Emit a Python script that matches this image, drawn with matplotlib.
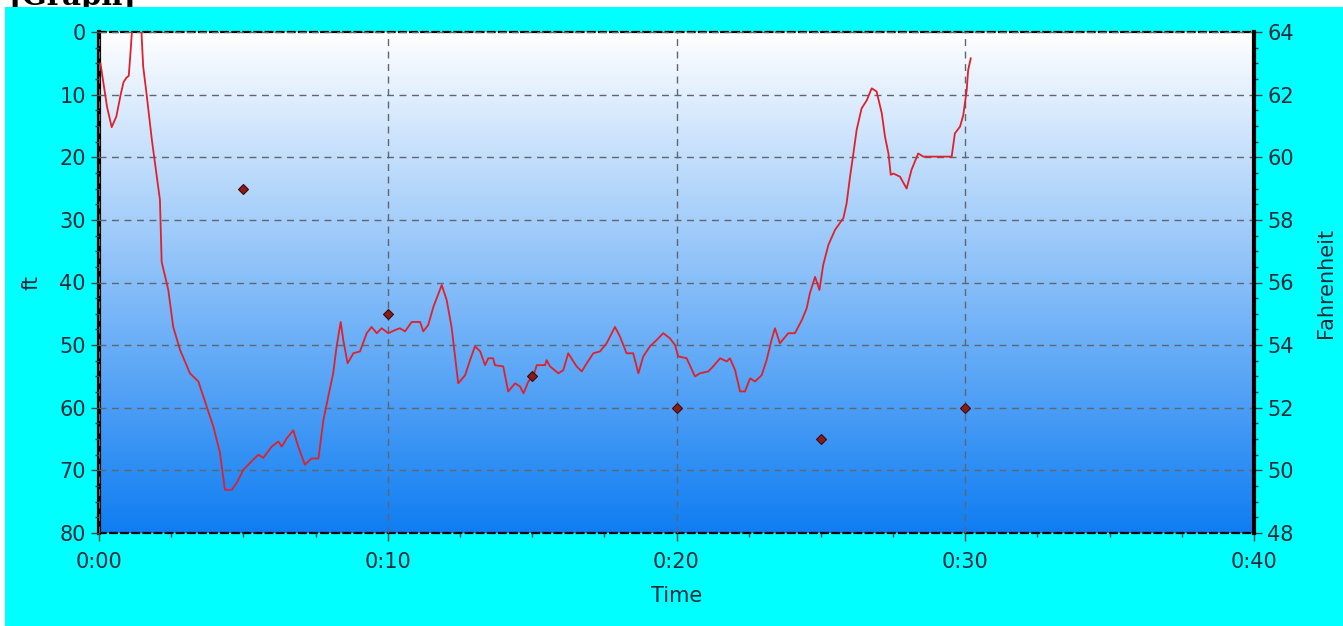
import numpy as np
import matplotlib
matplotlib.use("Agg")
import matplotlib.pyplot as plt
from matplotlib.colors import LinearSegmentedColormap
from matplotlib.patches import Rectangle
from matplotlib.ticker import MultipleLocator, FuncFormatter

# dive profile: time in minutes, depth in ft
time_min = [0.05, 0.15, 0.28, 0.44, 0.6, 0.75, 0.85, 0.95, 1.03, 1.08, 1.14, 1.25, 1.40, 1.47,
            1.53, 1.65, 1.83, 1.94, 2.11, 2.17, 2.40, 2.57, 2.81, 3.15, 3.44, 3.73, 3.96, 4.19,
            4.36, 4.60, 4.77, 5.0, 5.34, 5.52, 5.69, 5.98, 6.21, 6.33, 6.50, 6.73, 6.90, 7.13,
            7.36, 7.60, 7.77, 7.94, 8.11, 8.23, 8.37, 8.46, 8.61, 8.81, 9.04, 9.27, 9.44, 9.62,
            9.79, 10.02, 10.25, 10.42, 10.60, 10.83, 11.12, 11.23, 11.40, 11.58, 11.87, 12.04,
            12.21, 12.33, 12.44, 12.68, 12.85, 13.02, 13.20, 13.37, 13.48, 13.65, 13.71, 14.0,
            14.17, 14.41, 14.58, 14.70, 14.87, 15.04, 15.16, 15.45, 15.5, 15.62, 15.91, 16.08,
            16.25, 16.43, 16.54, 16.72, 16.89, 17.12, 17.35, 17.58, 17.87, 18.04, 18.27, 18.50,
            18.68, 18.85, 19.08, 19.31, 19.54, 19.77, 19.95, 20.06, 20.35, 20.64, 20.81, 21.10,
            21.27, 21.51, 21.74, 21.85, 22.03, 22.20, 22.37, 22.55, 22.72, 22.95, 23.12, 23.29,
            23.41, 23.58, 23.87, 24.10, 24.34, 24.51, 24.62, 24.80, 24.95, 25.08, 25.26, 25.49,
            25.78, 25.89, 26.01, 26.12, 26.24, 26.41, 26.59, 26.76, 26.93, 27.11, 27.22, 27.34,
            27.42, 27.51, 27.74, 27.97, 28.14, 28.37, 28.55, 29.53, 29.64, 29.82, 29.93, 30.05,
            30.10, 30.19]
depth_ft = [5, 8, 12, 15.2, 13.5, 10, 8, 7.3, 7, 4, 0, -2, -2, 0,
            5.5, 10, 17.2, 21, 26.8, 36.7, 41.2, 47.1, 50.8, 54.5, 55.8, 59.8, 63, 67.2,
            73.1, 73.1, 72, 69.9, 68.3, 67.5, 68, 66.2, 65.4, 66.2, 64.9, 63.6, 66.2, 69.1,
            68.1, 68.1, 62, 58.2, 54.5, 50.2, 46.3, 49.2, 52.9, 51.3, 51, 48.1, 47.1, 48.1,
            47.3, 48.1, 47.6, 47.3, 47.8, 46.3, 46.3, 47.8, 46.8, 43.9, 40.4, 42.8,
            47.1, 51.8, 56.1, 54.8, 52.4, 50.2, 51, 53.2, 52.1, 52.1, 53.2, 53.4,
            57.4, 56.1, 56.6, 57.7, 55.8, 55.0, 53.2, 53.2, 52.4, 53.4, 54.5, 54.0,
            51.3, 52.6, 53.4, 54.2, 52.9, 51.3, 51.0, 49.7, 47.1, 48.6, 51.3, 51.3,
            54.5, 51.8, 50.2, 49.2, 48.1, 48.9, 50.0, 51.8, 52.1, 55.0, 54.5, 54.2,
            53.4, 52.1, 52.6, 52.1, 54.0, 57.4, 57.4, 55.3, 55.8, 54.8, 52.4, 49.2,
            47.3, 49.7, 48.1, 48.1, 46.0, 44.1, 41.7, 39.1, 41.2, 37.2, 34.0, 31.6,
            29.7, 27.4, 23.1, 19.6, 15.6, 12.2, 10.9, 9.0, 9.5, 13.0, 16.7, 19.4,
            22.8, 22.6, 23.1, 25.0, 22.0, 19.4, 19.9, 19.9, 16.2, 15.1, 13.3, 9.3,
            6.1, 4.2]

# temperature samples
temp_time = [5, 10, 15, 20, 25, 30]
temp_f = [59, 55, 53, 52, 51, 52]

txt_col = '#1c2b3a'
plt.rcParams['font.family'] = ['DejaVu Sans']

fig = plt.figure(figsize=(13.43, 6.26), dpi=100, facecolor='white')
# cyan panel with the white strip left and top
fig.patches.append(Rectangle((5 / 1343, 0), 1, (626 - 7) / 626, transform=fig.transFigure,
                             facecolor='#00ffff', edgecolor='none', zorder=1))
fig.text(8 / 1343, 1 - 5 / 626, '[Graph]', fontsize=21, fontweight='bold',
         family='DejaVu Serif', va='baseline', ha='left', zorder=0)

ax = fig.add_axes([99 / 1343, 93 / 626, 1155 / 1343, 501 / 626])
ax.set_zorder(2)

# white -> blue gradient background
cmap = LinearSegmentedColormap.from_list('bg', ['#0f7df2', '#ffffff'])
grad = np.linspace(0, 1, 256).reshape(-1, 1)
ax.imshow(grad, cmap=cmap, aspect='auto', extent=[0, 1, 0, 1], origin='lower',
          transform=ax.transAxes, zorder=0)

ax.plot(time_min, depth_ft, color='#e0202a', lw=1.3, zorder=3)

ax.set_xlim(0, 40)
ax.set_ylim(80, 0)
ax.xaxis.set_major_locator(MultipleLocator(10))
ax.xaxis.set_minor_locator(MultipleLocator(2.5))
ax.xaxis.set_major_formatter(FuncFormatter(lambda v, p: '0:%02d' % int(round(v))))
ax.yaxis.set_major_locator(MultipleLocator(10))
ax.yaxis.set_minor_locator(MultipleLocator(2.5))
ax.grid(True, which='major', color='#5f6670', lw=1, linestyle=(0, (5, 4)), zorder=1)
ax.set_axisbelow(False)

ax.tick_params(which='both', direction='out', colors='#444444', labelcolor=txt_col,
               labelsize=15)
ax.tick_params(which='major', length=6, width=1)
ax.tick_params(which='minor', length=3, width=1)
ax.tick_params(axis='x', pad=8)

ax.set_xlabel('Time', fontsize=15, color=txt_col, labelpad=10)
ax.set_ylabel('ft', fontsize=15, color=txt_col, labelpad=13)

for s in ['top', 'bottom']:
    ax.spines[s].set_linestyle((0, (3, 2)))
    ax.spines[s].set_linewidth(1.6)
    ax.spines[s].set_color('black')
ax.spines['left'].set_linewidth(3)
ax.spines['right'].set_visible(False)

ax2 = ax.twinx()
ax2.plot(temp_time, temp_f, linestyle='none', marker='D', markersize=5,
         markerfacecolor='#8b1a1a', markeredgecolor='#3a0a0a', markeredgewidth=0.8, zorder=4)
ax2.set_ylim(48, 64)
ax2.yaxis.set_major_locator(MultipleLocator(2))
ax2.yaxis.set_minor_locator(MultipleLocator(0.5))
ax2.tick_params(which='both', direction='out', colors='#444444', labelcolor=txt_col,
                labelsize=15)
ax2.tick_params(which='major', length=6, width=1)
ax2.tick_params(which='minor', length=3, width=1)
ax2.set_ylabel('Fahrenheit', fontsize=15, color=txt_col, labelpad=16)
for s in ['top', 'bottom', 'left']:
    ax2.spines[s].set_visible(False)
ax2.spines['right'].set_linewidth(3)

fig.savefig('out.png', dpi=100, facecolor='white')
